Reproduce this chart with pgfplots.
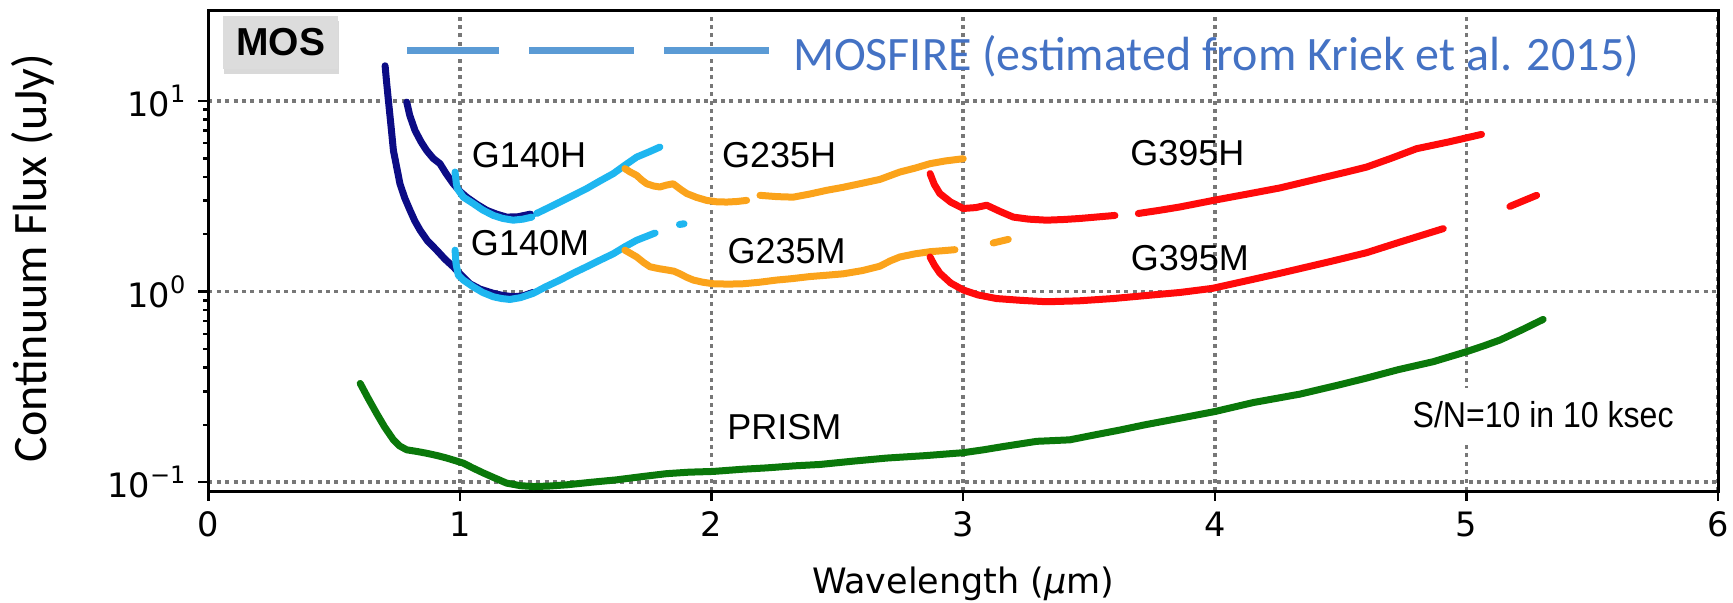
\documentclass[border=0pt]{standalone}
\usepackage{fontspec}
\setmainfont{DejaVu Sans}
\newfontfamily\carlito{Carlito}
\newfontfamily\helv{Liberation Sans}
\usepackage{pgfplots}
\pgfplotsset{compat=1.18}
\usetikzlibrary{shadows,calc}

\definecolor{navyc}{HTML}{0C0C85}
\definecolor{skyc}{HTML}{1EB6F0}
\definecolor{orangec}{HTML}{FBA31B}
\definecolor{redc}{HTML}{FF0A0A}
\definecolor{greenc}{HTML}{0A780A}
\definecolor{legline}{HTML}{5B9BD5}
\definecolor{legtext}{HTML}{4472C4}
\definecolor{gridc}{HTML}{777777}
\definecolor{mosgray}{HTML}{DCDCDC}

\newcommand{\expo}[1]{\raisebox{0.42em}{\fontsize{12}{12}\selectfont #1}}

\begin{document}
\begin{tikzpicture}
\begin{axis}[
  scale only axis, width=754.75pt, height=240.5pt,
  xmin=0, xmax=6, ymode=log, ymin=0.09, ymax=30,
  xtick={0,1,2,3,4,5,6}, xticklabels={0,1,2,3,4,5,6},
  ytick={0.1,1,10},
  yticklabels={10\expo{−1},10\expo{0},10\expo{1}},
  xtick pos=left, ytick pos=left,
  tick align=outside,
  major tick length=5pt, minor tick length=2.5pt,
  tick style={black, line width=1.2pt},
  axis line style={line width=1.5pt},
  grid=major,
  major grid style={gridc, line width=1.8pt, dash pattern=on 2pt off 2.2pt},
  tick label style={font=\fontsize{16.8}{19}\selectfont},
  xticklabel style={yshift=-2pt},
  yticklabel style={xshift=-3pt},
  xlabel={Wavelength (\textit{μ}m)},
  xlabel style={font=\fontsize{17.5}{20}\selectfont, at={(axis description cs:0.5,-0.214)}, anchor=base},
  ylabel={Continuum Flux (uJy)},
  ylabel style={font=\carlito\fontsize{24}{28}\selectfont, at={(axis description cs:-0.107,0.484)}, anchor=base},
  every axis plot/.append style={line width=3.5pt, line join=round, line cap=round},
]
% G140 (navy)
\addplot[navyc] coordinates {(0.702,15.3) (0.708,12.5) (0.715,10.1) (0.725,7.5) (0.735,5.5) (0.748,4.5) (0.761,3.68) (0.780,3.1) (0.801,2.67) (0.820,2.35) (0.841,2.10) (0.870,1.85) (0.907,1.65) (0.940,1.48) (0.973,1.35) (1.005,1.22) (1.039,1.10) (1.08,1.03) (1.132,0.98) (1.17,0.955) (1.211,0.94) (1.25,0.95) (1.29,0.99)};
\addplot[navyc] coordinates {(0.788,9.86) (0.80,8.4) (0.821,7.0) (0.845,6.1) (0.867,5.5) (0.893,5.0) (0.920,4.69) (0.945,4.15) (0.973,3.68) (1.0,3.35) (1.026,3.13) (1.065,2.88) (1.106,2.67) (1.145,2.55) (1.185,2.46) (1.23,2.47) (1.28,2.55)};
% G140 (sky blue)
\addplot[skyc] coordinates {(0.980,4.24) (0.985,3.7) (0.989,3.47) (1.013,3.13) (1.052,2.90) (1.09,2.68) (1.132,2.51) (1.17,2.42) (1.211,2.37) (1.25,2.40) (1.285,2.46)};
\addplot[skyc] coordinates {(1.304,2.57) (1.35,2.75) (1.397,2.95) (1.45,3.2) (1.503,3.47) (1.555,3.8) (1.609,4.16) (1.655,4.6) (1.702,5.08) (1.75,5.4) (1.794,5.73)};
\addplot[skyc] coordinates {(0.980,1.65) (0.984,1.40) (0.993,1.22) (1.013,1.15) (1.052,1.06) (1.09,0.99) (1.132,0.94) (1.165,0.92) (1.198,0.91) (1.24,0.93) (1.291,0.98) (1.34,1.06) (1.397,1.15) (1.45,1.25) (1.503,1.35) (1.555,1.46) (1.609,1.58) (1.655,1.72) (1.702,1.86) (1.775,2.03)};
\addplot[skyc] coordinates {(1.872,2.25) (1.890,2.27)};
% G235 (orange)
\addplot[orangec] coordinates {(1.655,4.42) (1.675,4.25) (1.702,4.07) (1.722,3.85) (1.742,3.68) (1.77,3.58) (1.794,3.54) (1.82,3.62) (1.847,3.68) (1.875,3.45) (1.901,3.27) (1.94,3.12) (1.980,3.01) (2.02,2.96) (2.060,2.95) (2.10,2.97) (2.139,3.01)};
\addplot[orangec] coordinates {(2.192,3.20) (2.26,3.15) (2.324,3.13) (2.39,3.25) (2.457,3.40) (2.52,3.52) (2.589,3.68) (2.669,3.88) (2.748,4.24) (2.81,4.45) (2.868,4.69) (2.93,4.85) (3.0,4.98)};
\addplot[orangec] coordinates {(1.655,1.65) (1.68,1.58) (1.702,1.52) (1.73,1.42) (1.755,1.35) (1.79,1.32) (1.821,1.30) (1.85,1.28) (1.874,1.24) (1.90,1.19) (1.927,1.15) (1.965,1.12) (2.006,1.10) (2.066,1.095) (2.126,1.10) (2.19,1.12) (2.258,1.15) (2.32,1.17) (2.391,1.20) (2.46,1.22) (2.523,1.24) (2.60,1.29) (2.669,1.36) (2.71,1.45) (2.748,1.52) (2.81,1.58) (2.868,1.62) (2.92,1.64) (2.967,1.66)};
\addplot[orangec] coordinates {(3.119,1.80) (3.179,1.88)};
% G395 (red)
\addplot[redc] coordinates {(2.868,4.16) (2.885,3.65) (2.907,3.27) (2.95,2.95) (3.0,2.73) (3.05,2.76) (3.093,2.84) (3.15,2.62) (3.199,2.46) (3.26,2.40) (3.331,2.37) (3.40,2.39) (3.464,2.42) (3.603,2.51)};
\addplot[redc] coordinates {(3.696,2.57) (3.78,2.67) (3.861,2.78) (3.994,3.01) (4.13,3.25) (4.259,3.50) (4.39,3.85) (4.524,4.24) (4.603,4.50) (4.70,5.0) (4.802,5.62) (4.93,6.1) (5.06,6.68)};
\addplot[redc] coordinates {(5.173,2.80) (5.279,3.20)};
\addplot[redc] coordinates {(2.868,1.52) (2.885,1.38) (2.907,1.25) (2.95,1.11) (3.0,1.02) (3.06,0.96) (3.132,0.92) (3.23,0.90) (3.331,0.885) (3.46,0.895) (3.596,0.92) (3.73,0.955) (3.861,0.99) (3.99,1.04) (4.126,1.14) (4.25,1.24) (4.338,1.32) (4.47,1.45) (4.603,1.60) (4.736,1.82) (4.82,1.97) (4.908,2.14)};
% PRISM (green)
\addplot[greenc] coordinates {(0.603,0.33) (0.635,0.275) (0.668,0.23) (0.70,0.195) (0.735,0.167) (0.76,0.155) (0.788,0.148) (0.83,0.145) (0.867,0.142) (0.91,0.138) (0.947,0.134) (0.98,0.130) (1.013,0.126) (1.05,0.119) (1.092,0.112) (1.14,0.105) (1.185,0.099) (1.24,0.096) (1.291,0.095) (1.35,0.0955) (1.424,0.097) (1.52,0.100) (1.622,0.103) (1.72,0.107) (1.821,0.111) (1.91,0.113) (2.006,0.114) (2.12,0.117) (2.219,0.119) (2.33,0.122) (2.43,0.124) (2.56,0.129) (2.696,0.134) (2.85,0.138) (3.0,0.143) (3.08,0.148) (3.159,0.154) (3.292,0.164) (3.424,0.167) (3.52,0.177) (3.623,0.188) (3.72,0.200) (3.822,0.212) (3.91,0.223) (4.0,0.235) (4.153,0.262) (4.338,0.29) (4.497,0.325) (4.603,0.352) (4.73,0.39) (4.868,0.429) (5.0,0.484) (5.07,0.52) (5.133,0.557) (5.22,0.63) (5.305,0.715)};
% MOSFIRE legend line
\addplot[legline, line width=3.7pt, line cap=butt, dash pattern=on 52.5pt off 15pt, dash phase=6.5pt] coordinates {(0.790,18.4) (2.229,18.4)};
\node[anchor=base west, inner sep=0, text=legtext, font=\carlito\fontsize{24}{28}\selectfont] at (axis cs:2.322,14.45) {MOSFIRE (estimated from Kriek et al. 2015)};
% labels
\begin{scope}[every node/.style={anchor=base, inner sep=0, font=\helv\fontsize{18}{20}\selectfont}]
\node at (axis cs:1.274,4.50) {G140H};
\node at (axis cs:1.278,1.553) {G140M};
\node at (axis cs:2.268,4.50) {G235H};
\node at (axis cs:2.298,1.405) {G235M};
\node at (axis cs:3.891,4.59) {G395H};
\node at (axis cs:3.901,1.296) {G395M};
\node at (axis cs:2.289,0.167) {PRISM};
\end{scope}
\node[anchor=base, fill=white, inner xsep=1pt, inner ysep=7pt, xscale=0.89, font=\helv\fontsize{18}{20}\selectfont] at (axis cs:5.305,0.193) {S/N=10 in 10 ksec};
\node[fill=mosgray, drop shadow={shadow xshift=0.3pt, shadow yshift=-2.5pt, opacity=0.3}, minimum width=57.5pt, minimum height=26.7pt, inner sep=0, font=\helv\bfseries\fontsize{19.5}{20}\selectfont] at (axis cs:0.287,20.3) {MOS};
\end{axis}
\pgfresetboundingbox
\path[use as bounding box] ($(current axis.south west)+(-104.25pt,-55.5pt)$) rectangle ($(current axis.south west)+(762.25pt,245.5pt)$);
\end{tikzpicture}
\end{document}
